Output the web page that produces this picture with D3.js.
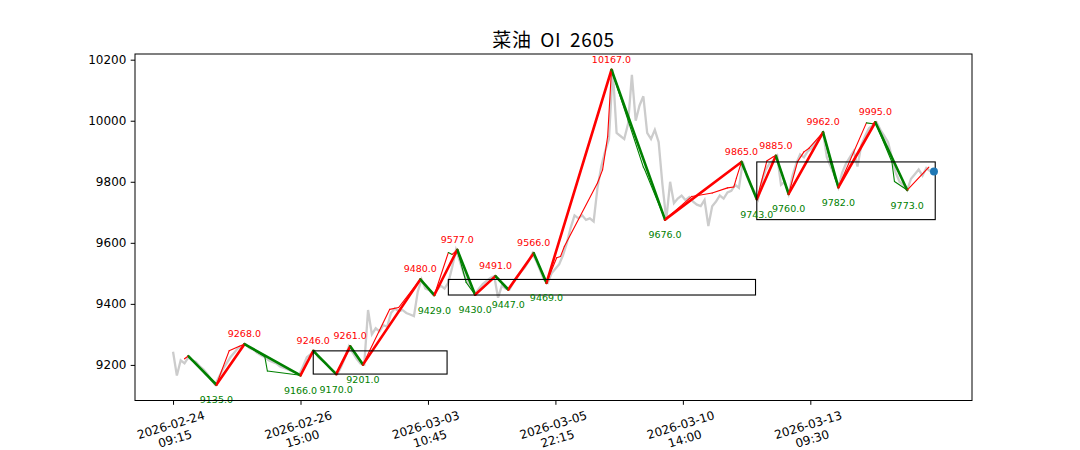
<!DOCTYPE html>
<html><head><meta charset="utf-8">
<script src="https://cdn.jsdelivr.net/npm/d3@7"></script>
<style>body{margin:0;background:#fff}</style>
</head><body><svg id="c" width="1080" height="450"></svg>
<script>
// close price, one value every 3 bars
const closeStep = 3;
const closeVals = [
9243,9165,9215,9205,9225,9215,9210,9195,9185,9170,
9150,9135,9160,9185,9205,9225,9240,9255,9262,9268,
9255,9250,9240,9232,9225,9215,9210,9205,9195,9190,
9185,9180,9175,9168,9195,9225,9235,9246,9225,9215,
9205,9190,9178,9170,9195,9225,9261,9240,9220,9205,
9201,9380,9300,9320,9310,9330,9325,9370,9385,9375,
9380,9370,9365,9360,9440,9480,9450,9445,9430,9445,
9460,9450,9470,9520,9577,9540,9500,9470,9450,9432,
9450,9465,9475,9485,9491,9420,9460,9450,9447,9470,
9490,9505,9520,9540,9566,9540,9510,9480,9469,9500,
9515,9530,9560,9600,9650,9690,9680,9690,9675,9680,
9670,9780,9850,9900,9940,10167,9960,9950,9940,9990,
10150,10000,10050,10080,9960,9940,9970,9930,9790,9676,
9800,9730,9745,9755,9740,9750,9735,9725,9720,9740,
9655,9720,9735,9755,9745,9765,9770,9790,9780,9865,
9820,9790,9770,9743,9800,9840,9860,9870,9885,9790,
9800,9760,9820,9860,9890,9880,9900,9910,9930,9945,
9962,9880,9850,9820,9782,9830,9860,9880,9900,9850,
9920,9950,9975,9985,9995,9970,9950,9930,9880,9830,
9800,9790,9773,9810,9825,9840,9820,9845,9835,9834
];
// main zigzag pivots
const pivotIdx = [12,34,56,100,110,128,139,149,194,205,223,237,253,263,283,293,344,386,446,458,473,483,510,522,551,576];
const pivotVal = [9229,9135,9268,9166,9246,9170,9261,9201,9480,9429,9577,9430,9491,9447,9566,9469,10167,9676,9865,9743,9885,9760,9962,9782,9995,9773];
// sub-level zigzag
const subIdx = [9,12,34,44,52,56,72,74,100,110,128,139,149,170,177,194,205,216,219,223,230,237,253,263,283,293,301,304,307,333,337,340,341,344,369,370,386,407,423,435,440,442,446,458,466,471,473,483,490,495,499,510,516,519,522,544,549,551,564,566,576,593];
const subVal = [9220,9229,9135,9246,9261,9268,9227,9180,9166,9246,9170,9261,9201,9382,9388,9480,9429,9568,9562,9577,9470,9430,9491,9447,9566,9469,9551,9555,9588,9796,9839,9921,9949,10167,9848,9840,9676,9752,9763,9780,9783,9812,9865,9743,9869,9882,9885,9760,9866,9898,9910,9962,9860,9815,9782,9993,9990,9995,9865,9801,9773,9848];
// pivot boxes
const boxStart = [110,216,458];
const boxEnd   = [215,457,598];
const boxLow   = [9170,9429,9676];
const boxHigh  = [9246,9480,9865];
// axes
const tickIdx = [0,100,200,300,400,500];
const tickDates = ["2026-02-24","2026-02-26","2026-03-03","2026-03-05","2026-03-10","2026-03-13"];
const tickTimes = ["09:15","15:00","10:45","22:15","14:00","09:30"];
const yTicks = [9200,9400,9600,9800,10000,10200];
const title = "菜油 OI 2605";

const L=135, R=972, T=54, B=400.5;
const RED="#ff0000", GREEN="#008000";
const svg = d3.select("#c");
svg.append("rect").attr("width",1080).attr("height",450).attr("fill","#fff");

const closeData = closeVals.map((v,i)=>({i:i*closeStep, v}));
const lastIdx = closeData[closeData.length-1].i;
const x = d3.scaleLinear().domain([-0.05*lastIdx, 1.05*lastIdx]).range([L,R]);
const allV = closeVals.concat(pivotVal);
const vmin = d3.min(allV), vmax = d3.max(allV), pad=(vmax-vmin)*0.05;
const y = d3.scaleLinear().domain([vmin-pad, vmax+pad]).range([B,T]);

const plot = svg.append("g");
const line = d3.line().x(d=>x(d.i)).y(d=>y(d.v));
plot.append("path").datum(closeData).attr("d",line)
  .attr("fill","none").attr("stroke","#cccccc").attr("stroke-width",2.3).attr("stroke-linejoin","miter");

const pivots = pivotIdx.map((p,k)=>({i:p, v:pivotVal[k]}));
const segs = d3.pairs(pivots);
plot.selectAll(".thick").data(segs).join("line")
  .attr("x1",d=>x(d[0].i)).attr("y1",d=>y(d[0].v)).attr("x2",d=>x(d[1].i)).attr("y2",d=>y(d[1].v))
  .attr("stroke",d=>d[1].v>d[0].v?RED:GREEN).attr("stroke-width",2.6).attr("stroke-linecap","round");

const subs = subIdx.map((p,k)=>({i:p, v:subVal[k]}));
plot.selectAll(".thin").data(d3.pairs(subs)).join("line")
  .attr("x1",d=>x(d[0].i)).attr("y1",d=>y(d[0].v)).attr("x2",d=>x(d[1].i)).attr("y2",d=>y(d[1].v))
  .attr("stroke",d=>d[1].v>d[0].v?RED:GREEN).attr("stroke-width",1.1).attr("stroke-linecap","round");

boxStart.forEach((s,k)=>{
  plot.append("rect").attr("x",x(s)).attr("y",y(boxHigh[k]))
    .attr("width",x(boxEnd[k])-x(s)).attr("height",y(boxLow[k])-y(boxHigh[k]))
    .attr("fill","none").attr("stroke","#000").attr("stroke-width",1.1);
});

pivots.forEach((p,k)=>{
  if(k===0) return;
  const prev = pivots[k-1].v;
  const high = p.v>prev;
  plot.append("text").attr("x",x(p.i)).attr("y",high? y(p.v)-7 : y(p.v)+18.5)
    .attr("text-anchor","middle").attr("font-family","DejaVu Sans").attr("font-size","9.5px")
    .attr("fill",high?RED:GREEN).text(p.v.toFixed(1));
});

const last = closeData[closeData.length-1];
plot.append("circle").attr("cx",x(last.i)).attr("cy",y(last.v)).attr("r",4).attr("fill","#1f77b4");

// axes
const yAx = svg.append("g").attr("transform",`translate(${L},0)`)
  .call(d3.axisLeft(y).tickValues(yTicks).tickSize(4.3).tickPadding(4.3).tickFormat(d3.format("d")));
yAx.select(".domain").remove();
yAx.selectAll("text").attr("font-family","DejaVu Sans").attr("font-size","12px").attr("fill","#000");
yAx.selectAll("line").attr("stroke","#000");

const xAx = svg.append("g").attr("transform",`translate(0,${B})`)
  .call(d3.axisBottom(x).tickValues(tickIdx).tickSize(4.3).tickFormat(""));
xAx.select(".domain").remove();
xAx.selectAll("line").attr("stroke","#000");

tickIdx.forEach((t,k)=>{
  const g = svg.append("g");
  const inner = g.append("g").attr("transform","rotate(-17)");
  [tickDates[k], tickTimes[k]].forEach((s,j)=>{
    inner.append("text").attr("x",0).attr("y", j*14.4).attr("text-anchor","middle")
      .attr("font-family","DejaVu Sans").attr("font-size","12px").attr("fill","#000").text(s);
  });
  const bb = g.node().getBBox();
  g.attr("transform",`translate(${x(t)-(bb.x+bb.width/2)},${B+4.3+3.5-bb.y})`);
});

svg.append("rect").attr("x",L).attr("y",T).attr("width",R-L).attr("height",B-T)
  .attr("fill","none").attr("stroke","#000").attr("stroke-width",1);

svg.append("text").attr("x",(L+R)/2).attr("y",47).attr("text-anchor","middle")
  .attr("font-family","Noto Sans CJK SC").attr("font-size","19px").attr("letter-spacing","0.6px")
  .attr("word-spacing","4px").attr("fill","#000").text(title);
</script></body></html>
